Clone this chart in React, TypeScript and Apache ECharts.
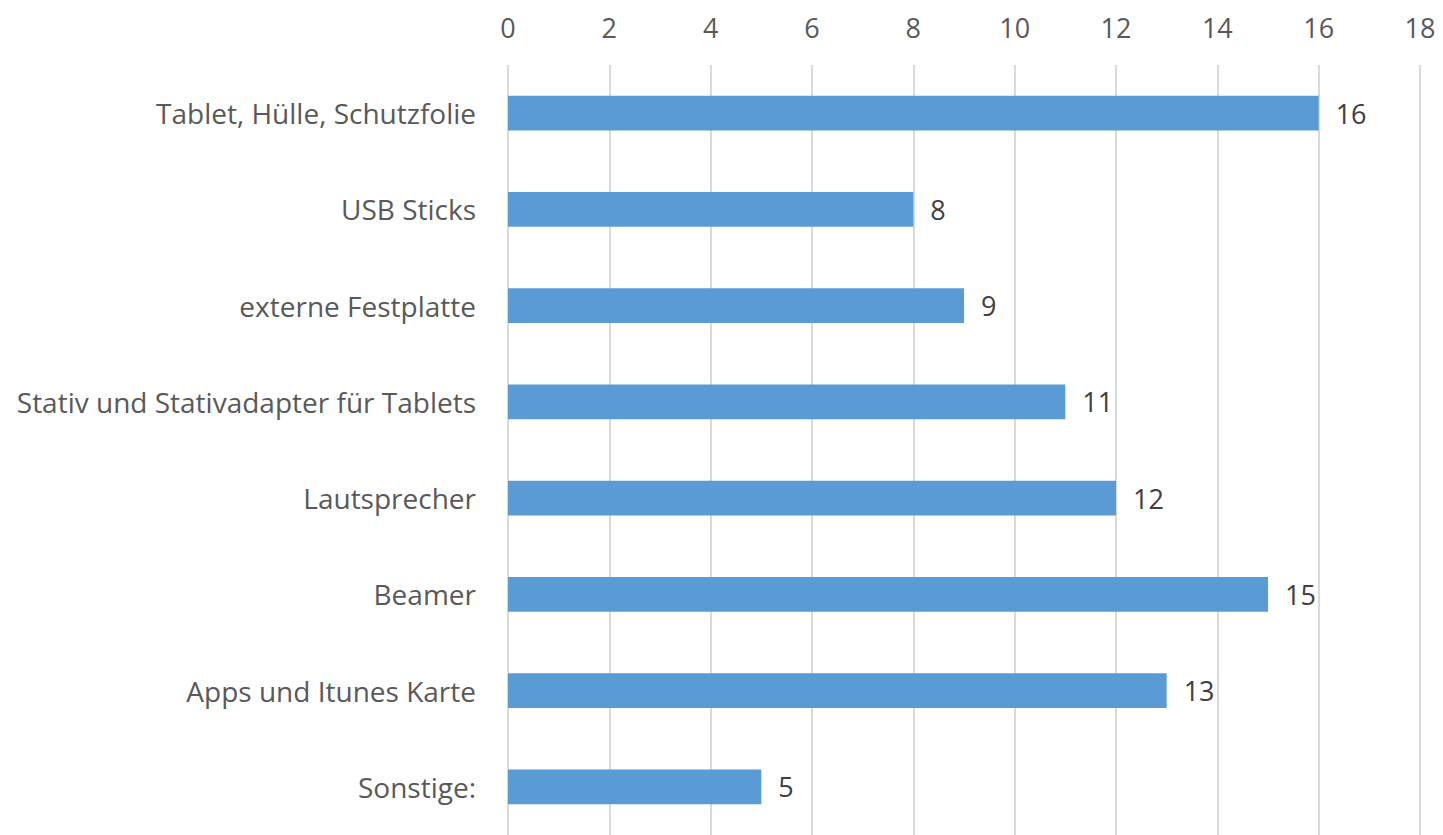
import React, { useEffect, useRef } from "react";
import * as echarts from "echarts";

const categories = [
  "Tablet, Hülle, Schutzfolie",
  "USB Sticks",
  "externe Festplatte",
  "Stativ und Stativadapter für Tablets",
  "Lautsprecher",
  "Beamer",
  "Apps und Itunes Karte",
  "Sonstige:",
];
const values = [16, 8, 9, 11, 12, 15, 13, 5];
const axisMin = 0;
const axisMax = 18;
const axisStep = 2;

const FONT = "'Open Sans', sans-serif";

export default function App() {
  const ref = useRef<HTMLDivElement>(null);
  useEffect(() => {
    if (!ref.current) return;
    const chart = echarts.init(ref.current, undefined, { renderer: "svg" });
    chart.setOption({
      animation: false,
      backgroundColor: "#ffffff",
      grid: { left: 508, right: 23, top: 65, bottom: 0, containLabel: false },
      xAxis: {
        type: "value",
        position: "top",
        min: axisMin,
        max: axisMax,
        interval: axisStep,
        axisLine: { show: false },
        axisTick: { show: false },
        axisLabel: { color: "#595959", fontSize: 27, fontFamily: FONT, margin: 24 },
        splitLine: { show: true, lineStyle: { color: "#D9D9D9", width: 2 } },
      },
      yAxis: {
        type: "category",
        data: categories,
        inverse: true,
        axisLine: { show: false },
        axisTick: { show: false },
        axisLabel: { color: "#595959", fontSize: 28, fontFamily: FONT, margin: 32 },
      },
      series: [
        {
          type: "bar",
          data: values,
          barWidth: "36%",
          itemStyle: { color: "#5B9BD5" },
          label: {
            show: true,
            position: "right",
            distance: 17,
            color: "#404040",
            fontSize: 27,
            fontFamily: FONT,
          },
        },
      ],
    });
    return () => chart.dispose();
  }, []);
  return (
    <div
      ref={ref}
      style={{ position: "absolute", left: 0, top: 0, width: 1443, height: 835 }}
    />
  );
}
